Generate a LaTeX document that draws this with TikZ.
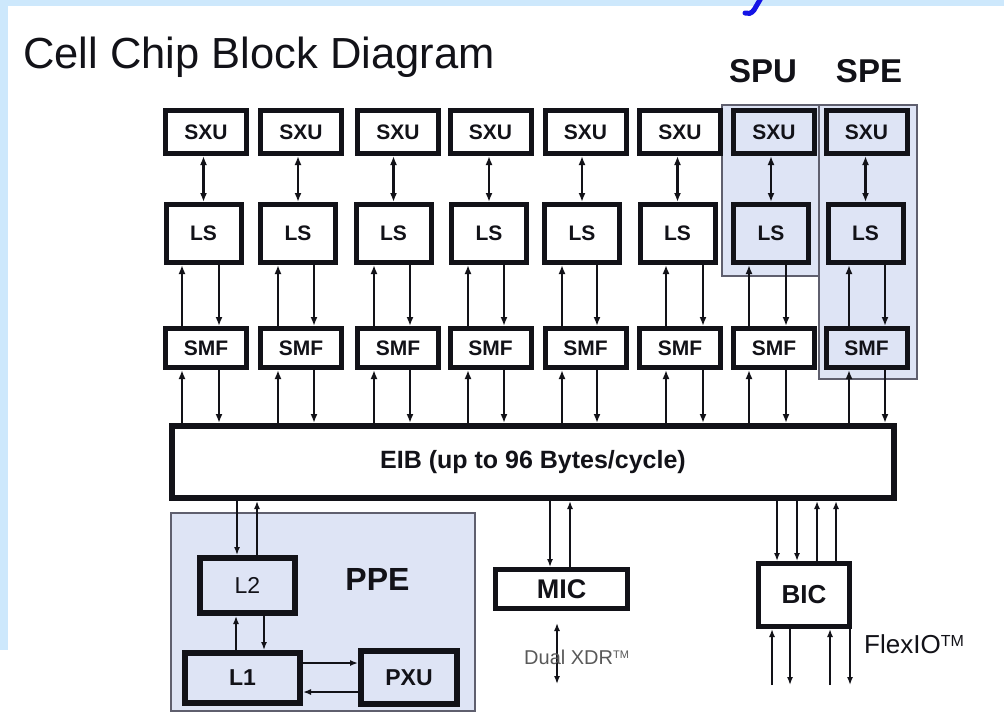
\documentclass[tikz,border=0pt]{standalone}
\usepackage{fontspec}
\setmainfont{Liberation Sans}
\usetikzlibrary{arrows.meta}
\definecolor{bgblue}{RGB}{205,232,252}
\definecolor{hl}{RGB}{222,228,245}
\definecolor{hlborder}{RGB}{95,95,110}
\definecolor{ink}{RGB}{18,18,24}
\definecolor{titleblue}{RGB}{20,20,230}
\begin{document}
\begin{tikzpicture}[x=1pt,y=-1pt,
  blk/.style={draw=ink, line width=5pt, inner sep=0pt, text=ink,
    font=\fontsize{21}{21}\selectfont\bfseries},
  arr/.style={draw=ink, line width=2.6pt, -{Latex[length=9pt,width=7pt]}},
  dbl/.style={draw=ink, line width=2.6pt, {Latex[length=9pt,width=7pt]}-{Latex[length=9pt,width=7pt]}},
  tarr/.style={draw=ink, line width=1.5pt, -{Latex[length=8pt,width=6pt]}},
  tdbl/.style={draw=ink, line width=1.5pt, {Latex[length=8pt,width=6pt]}-{Latex[length=8pt,width=6pt]}},
  region/.style={draw=hlborder, fill=hl, line width=1.2pt}]
\useasboundingbox (0,0) rectangle (1004,715);
\fill[white] (0,0) rectangle (1004,715);
\fill[bgblue] (0,0) rectangle (1004,6);
\fill[bgblue] (0,0) rectangle (8,650);
% tail of a cut-off blue letter at the top edge
\draw[titleblue, line width=5pt, line cap=round] (761,-2) -- (754,10) .. controls (751,14) and (748,14) .. (745,13);

% title
\node[anchor=base west, inner sep=0pt, text=ink, font=\fontsize{43.5}{43.5}\selectfont] (title) at (23,68) {Cell Chip Block Diagram};
\node[anchor=base, inner sep=0pt, text=ink, font=\fontsize{33}{33}\selectfont\bfseries] (spu) at (763,82) {SPU};
\node[anchor=base, inner sep=0pt, text=ink, font=\fontsize{33}{33}\selectfont\bfseries] (spe) at (869,82) {SPE};

% highlight regions
\draw[region] (722,105) rectangle (823,276);
\draw[region] (819,105) rectangle (917,379);
\draw[region] (171,513) rectangle (475,711);

% EIB
\node[blk, line width=6pt, fill=white, minimum width=722pt, minimum height=72pt,
  font=\fontsize{25}{25}\selectfont\bfseries] (eib) at (533,462) {EIB (up to 96 Bytes/cycle)};

% SPE columns
\foreach \i/\sx/\lx/\xl/\xr/\fa/\fb in {
  1/206/203.5/182/219/white/white,
  2/301/298/278/314/white/white,
  3/398/393.5/374/410/white/white,
  4/490.5/489/468/504/white/white,
  5/585.5/582/562/597/white/white,
  6/680/677.5/666/703/white/white,
  7/774/771/749/786/hl/white,
  8/866.5/865.5/849/885/hl/hl}{
  \node[blk, fill=\fa, minimum width=81pt, minimum height=43pt] (sxu\i) at (\sx,132) {SXU};
  \node[blk, fill=\fa, minimum width=75pt, minimum height=58pt] (ls\i) at (\lx,233.5) {LS};
  \node[blk, fill=\fb, minimum width=81pt, minimum height=39pt] (smf\i) at (\sx,348) {SMF};
  \coordinate (cl\i) at (\xl,0);
  \coordinate (cr\i) at (\xr,0);
  \draw[dbl] (ls\i.north |- sxu\i.south) -- (ls\i.north);
  \draw[arr] (smf\i.north -| cl\i) -- (ls\i.south -| cl\i);
  \draw[arr] (ls\i.south -| cr\i) -- (smf\i.north -| cr\i);
  \draw[arr] (eib.north -| cl\i) -- (smf\i.south -| cl\i);
  \draw[arr] (smf\i.south -| cr\i) -- (eib.north -| cr\i);
}

% PPE
\node[anchor=base, inner sep=0pt, text=ink, font=\fontsize{32}{32}\selectfont\bfseries] (ppe) at (377.5,590) {PPE};
\node[blk, line width=6pt, fill=hl, minimum width=95pt, minimum height=55pt,
  font=\fontsize{23}{23}\selectfont] (l2) at (247.5,585.5) {L2};
\node[blk, line width=6pt, fill=hl, minimum width=115pt, minimum height=50pt,
  font=\fontsize{23}{23}\selectfont\bfseries] (l1) at (242.5,678) {L1};
\node[blk, line width=6pt, fill=hl, minimum width=96pt, minimum height=53pt,
  font=\fontsize{23}{23}\selectfont\bfseries] (pxu) at (409,677.5) {PXU};
\coordinate (p1) at (237,0);
\coordinate (p2) at (257,0);
\coordinate (p3) at (236,0);
\coordinate (p4) at (264,0);
\coordinate (q1) at (0,663);
\coordinate (q2) at (0,692);
\draw[tarr] (eib.south -| p1) -- (l2.north -| p1);
\draw[tarr] (l2.north -| p2) -- (eib.south -| p2);
\draw[tarr] (l1.north -| p3) -- (l2.south -| p3);
\draw[tarr] (l2.south -| p4) -- (l1.north -| p4);
\draw[tarr] (l1.east |- q1) -- (pxu.west |- q1);
\draw[tarr] (pxu.west |- q2) -- (l1.east |- q2);

% MIC
\node[blk, fill=white, minimum width=132pt, minimum height=39pt,
  font=\fontsize{27}{27}\selectfont\bfseries] (mic) at (561.5,589) {MIC};
\coordinate (m1) at (550,0);
\coordinate (m2) at (570,0);
\draw[tarr] (eib.south -| m1) -- (mic.north -| m1);
\draw[tarr] (mic.north -| m2) -- (eib.south -| m2);
\coordinate (xa) at (557,623);
\coordinate (xb) at (557,684);
\draw[tdbl] (xa) -- (xb);
\node[anchor=base west, inner sep=0pt, text=black!65, font=\fontsize{20}{20}\selectfont] (xdr) at (524,664)
  {Dual XDR\raisebox{6pt}{\fontsize{11}{11}\selectfont TM}};

% BIC
\node[blk, fill=white, minimum width=91pt, minimum height=63pt,
  font=\fontsize{26}{26}\selectfont\bfseries] (bic) at (804,595) {BIC};
\coordinate (b1) at (777,0);
\coordinate (b2) at (797,0);
\coordinate (b3) at (817,0);
\coordinate (b4) at (836,0);
\draw[tarr] (eib.south -| b1) -- (bic.north -| b1);
\draw[tarr] (eib.south -| b2) -- (bic.north -| b2);
\draw[tarr] (bic.north -| b3) -- (eib.south -| b3);
\draw[tarr] (bic.north -| b4) -- (eib.south -| b4);
\coordinate (f1) at (772,685);
\coordinate (f2) at (790,685);
\coordinate (f3) at (830,685);
\coordinate (f4) at (850,685);
\draw[tarr] (f1) -- (bic.south -| f1);
\draw[tarr] (bic.south -| f2) -- (f2);
\draw[tarr] (f3) -- (bic.south -| f3);
\draw[tarr] (bic.south -| f4) -- (f4);
\node[anchor=base west, inner sep=0pt, text=ink, font=\fontsize{26}{26}\selectfont] (flex) at (864,653)
  {FlexIO\raisebox{7pt}{\fontsize{16}{16}\selectfont TM}};
\end{tikzpicture}
\end{document}
